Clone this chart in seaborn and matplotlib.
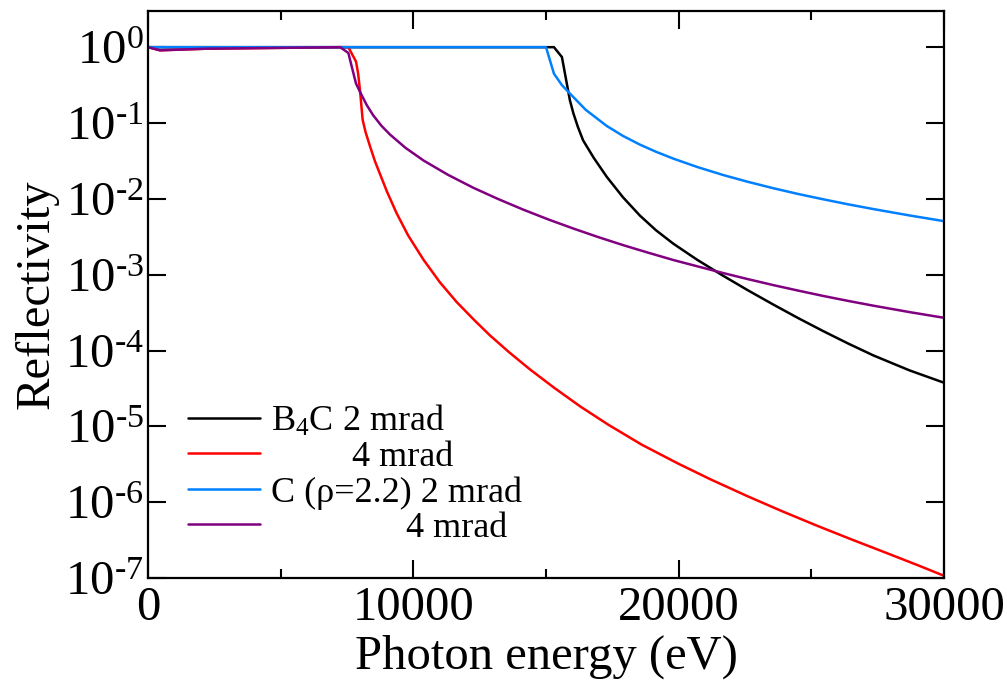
import numpy as np
import pandas as pd
import matplotlib
matplotlib.use("Agg")
import matplotlib.pyplot as plt
import seaborn as sns
from matplotlib.ticker import FixedLocator, FuncFormatter, NullLocator

# ---- data (photon energy in eV, reflectivity) ----
b4c_2_E = [0, 15300, 15600, 15900, 16030, 16200, 16400, 16800, 17290, 17900,
           18540, 19150, 19800, 20700, 21680, 22600, 23570, 24500, 25450, 26400,
           27340, 28700, 30000]
b4c_2_R = [1.0, 1.0, 0.741, 0.200, 0.135, 0.0891, 0.0589, 0.0347, 0.0195, 0.0105,
           0.00601, 0.00384, 0.00256, 0.00157, 9.66e-4, 6.25e-4, 4.03e-4, 2.68e-4,
           1.80e-4, 1.23e-4, 8.61e-5, 5.47e-5, 3.76e-5]

b4c_4_E = [0, 450, 2200, 7240, 7550, 7840, 7920, 7990, 8090, 8200, 8370, 8550,
           8740, 9000, 9370, 9800, 10380, 11000, 11630, 12300, 12890, 13600,
           14400, 15300, 16300, 17350, 18600, 19970, 21200, 22590, 23900, 25210,
           26500, 27830, 29000, 30000]
b4c_4_R = [1.0, 0.91, 0.955, 1.0, 1.0, 0.646, 0.447, 0.269, 0.110, 0.0759,
           0.0490, 0.0316, 0.0214, 0.0126, 0.00646, 0.00331, 0.00158, 7.94e-4,
           4.37e-4, 2.51e-4, 1.58e-4, 9.55e-5, 5.62e-5, 3.24e-5, 1.82e-5, 1.05e-5,
           5.75e-6, 3.24e-6, 2.00e-6, 1.20e-6, 7.59e-7, 4.90e-7, 3.24e-7, 2.14e-7,
           1.48e-7, 1.07e-7]

c_2_E = [0, 15000, 15300, 15600, 15900, 16500, 17290, 17900, 18540, 19150, 19800,
         20700, 21680, 22600, 23570, 24500, 25450, 26400, 27340, 28700, 30000]
c_2_R = [1.0, 1.0, 0.447, 0.316, 0.245, 0.149, 0.0914, 0.0676, 0.0519, 0.0417,
         0.0339, 0.0263, 0.0206, 0.0168, 0.0138, 0.0116, 0.00986, 0.00845,
         0.00733, 0.00604, 0.00508]

c_4_E = [0, 450, 2200, 7240, 7550, 7840, 8050, 8250, 8490, 8800, 9120, 9700,
         10380, 11300, 12260, 13200, 14150, 15100, 16030, 16970, 17910, 18850,
         19800, 20700, 21680, 22600, 23570, 24500, 25450, 26400, 27340, 28700,
         30000]
c_4_R = [1.0, 0.91, 0.955, 1.0, 0.84, 0.331, 0.234, 0.171, 0.126, 0.0918, 0.0705,
         0.0472, 0.0321, 0.0208, 0.0140, 0.00993, 0.00719, 0.00533, 0.00406,
         0.00313, 0.00245, 0.00195, 0.00156, 0.00129, 0.00105, 8.75e-4, 7.28e-4,
         6.17e-4, 5.24e-4, 4.50e-4, 3.90e-4, 3.21e-4, 2.70e-4]

series_names = ["B4C 2 mrad", "B4C 4 mrad", "C 2 mrad", "C 4 mrad"]
legend_labels = ["B$_4$C 2 mrad", "         4 mrad", "C (\u03c1=2.2) 2 mrad",
                 "               4 mrad"]
colors = ["#000000", "#ff0000", "#0080ff", "#800080"]

x_major = [0, 10000, 20000, 30000]
x_minor = [5000, 15000, 25000]
y_exponents = [0, -1, -2, -3, -4, -5, -6, -7]

frames = []
for name, E, R in zip(series_names, [b4c_2_E, b4c_4_E, c_2_E, c_4_E],
                      [b4c_2_R, b4c_4_R, c_2_R, c_4_R]):
    frames.append(pd.DataFrame({"E": E, "R": R, "series": name}))
df = pd.concat(frames, ignore_index=True)

# ---- style ----
sns.set_theme(style="ticks")
plt.rcParams["font.family"] = ["Liberation Serif", "DejaVu Serif"]
plt.rcParams["mathtext.fontset"] = "custom"
plt.rcParams["mathtext.rm"] = "Liberation Serif"
plt.rcParams["mathtext.it"] = "Liberation Serif:italic"
plt.rcParams["mathtext.bf"] = "Liberation Serif:bold"
for key in ["text.color", "axes.labelcolor", "xtick.color", "ytick.color",
            "axes.edgecolor"]:
    plt.rcParams[key] = "black"

fig = plt.figure(figsize=(10.07, 6.92), dpi=100)
ax = fig.add_axes([148 / 1007, 1 - 578 / 692, 796 / 1007, 567 / 692])

sns.lineplot(data=df, x="E", y="R", hue="series", hue_order=series_names,
             palette=dict(zip(series_names, colors)), estimator=None, sort=False,
             linewidth=1.8, legend=False, ax=ax)

ax.set_yscale("log")
ax.set_xlim(0, 30000)
ax.set_ylim(1e-7, 3.0)

ax.xaxis.set_major_locator(FixedLocator(x_major))
ax.xaxis.set_minor_locator(FixedLocator(x_minor))
ax.xaxis.set_major_formatter(FuncFormatter(lambda v, p: f"{int(v)}"))
ax.yaxis.set_major_locator(FixedLocator([10.0 ** e for e in y_exponents]))
ax.yaxis.set_minor_locator(NullLocator())
ax.yaxis.set_major_formatter(FuncFormatter(
    lambda v, p: r"10$^{\text{%d}}$" % int(round(np.log10(v))) if v < 1
    else r"10$^{\text{0}}$"))

for s in ax.spines.values():
    s.set_linewidth(1.6)
    s.set_color("black")

ax.tick_params(which="major", direction="in", length=13, width=1.5,
               top=True, right=True, labelsize=35, colors="black", pad=3)
ax.tick_params(which="minor", direction="in", length=6.5, width=1.5,
               top=True, right=True, colors="black")
ax.tick_params(axis="x", which="major", pad=6)

ax.set_xlabel("Photon energy (eV)", fontsize=35, labelpad=3, color="black")
ax.set_ylabel("Reflectivity", fontsize=35, labelpad=5, color="black")
ax.grid(False)

leg = ax.legend(ax.lines[:4], legend_labels, loc="upper left",
                bbox_to_anchor=(0.05, 0.308), frameon=False, fontsize=26,
                handlelength=2.0, handletextpad=0.3, labelspacing=0.06,
                borderpad=0, borderaxespad=0)
for t in leg.get_texts():
    t.set_color("black")

fig.savefig("out.png", dpi=100)
